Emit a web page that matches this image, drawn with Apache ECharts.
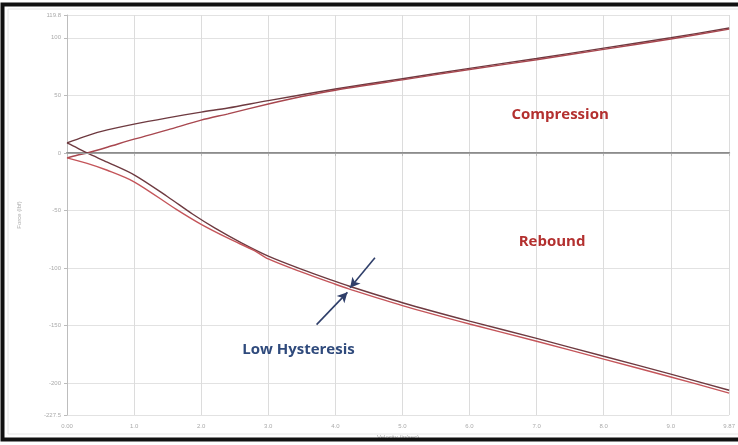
<!DOCTYPE html>
<html>
<head>
<meta charset="utf-8">
<script src="https://cdn.jsdelivr.net/npm/echarts@6/dist/echarts.min.js"></script>
<style>html,body{margin:0;padding:0;background:#fff}#c{width:738px;height:445px}</style>
</head>
<body>
<div id="c"></div>
<script>
// Velocity (in/sec) and Force (lbf) readings
const compAX = [0, 0.25, 0.5, 1.0, 1.5, 2.0, 2.4, 3.0, 4.0, 5.0, 6.0, 7.0, 8.0, 9.0, 9.87];
const compAY = [8.7, 14, 18.5, 25, 30.5, 35.5, 39, 45.5, 55.5, 64.5, 73.5, 82, 91, 100, 108.5];
const compBX = [0, 0.15, 0.3, 0.6, 1.0, 1.5, 2.0, 2.4, 3.0, 3.5, 4.0, 5.0, 6.0, 7.0, 8.0, 9.0, 9.87];
const compBY = [-4.3, -2, 0, 5, 12, 20, 28.5, 34, 42.5, 49, 54.5, 63.5, 72.5, 81, 90, 99, 107.5];
const rebCX = [0, 0.15, 0.3, 0.6, 1.0, 1.5, 1.87, 2.2, 2.6, 3.0, 3.5, 4.0, 4.2, 5, 6, 7, 8, 9, 9.87];
const rebCY = [8.7, 4.5, 0, -8, -19, -38, -53, -65, -78, -89.5, -101, -111.5, -115.5, -130, -146, -161, -176.5, -192, -206];
const rebDX = [0, 0.3, 0.6, 1.0, 1.63, 2.0, 2.4, 2.8, 3.0, 3.5, 4.0, 4.2, 5, 6, 7, 8, 9, 9.87];
const rebDY = [-4.3, -9, -15, -25, -49, -62, -74, -85, -92, -103.5, -114, -118, -132.5, -148.5, -163.5, -179, -194.5, -208.5];
const xTicks = [0, 1, 2, 3, 4, 5, 6, 7, 8, 9, 9.87];
const yTicks = [-227.5, -200, -150, -100, -50, 0, 50, 100, 119.8];
const xMin = 0, xMax = 9.87, yMin = -227.5, yMax = 119.8;
const notes = [
  {name: 'Compression', x: 7.35, y: 33, color: '#b3302f', size: 15},
  {name: 'Rebound', x: 7.23, y: -77, color: '#b3302f', size: 15},
  {name: 'Low Hysteresis', x: 3.45, y: -171, color: '#2f4a7c', size: 15}
];
const arrows = [
  [[4.59, -91], [4.22, -117]],
  [[3.72, -149], [4.18, -121]]
];

const zip = (xs, ys) => xs.map((x, i) => [x, ys[i]]);
const line = (name, xs, ys, color) => ({
  name, type: 'line', data: zip(xs, ys), smooth: 0.3, showSymbol: false,
  lineStyle: {color, width: 1.4}, z: 3
});

const chart = echarts.init(document.getElementById('c'));
const series = [
  line('compA', compAX, compAY, '#6e3a40'),
  line('compB', compBX, compBY, '#a8474f'),
  line('rebC', rebCX, rebCY, '#6e3a40'),
  line('rebD', rebDX, rebDY, '#c4555a')
];
series.push({
  type: 'line', data: [], silent: true,
  markLine: {
    silent: true, symbol: 'none', animation: false,
    label: {show: false},
    lineStyle: {color: '#a0a0a0', width: 1.2, type: 'solid'},
    data: [{yAxis: 0}]
  }
});
series.push({
  type: 'line', data: [], silent: true,
  markLine: {
    silent: true, animation: false, symbol: ['none', 'arrow'], symbolSize: [8, 10],
    label: {show: false},
    lineStyle: {color: '#2f3f6a', width: 1.6, type: 'solid'},
    data: arrows.map(a => [{coord: a[0]}, {coord: a[1]}])
  },
  markPoint: {
    silent: true, animation: false, symbol: 'circle', symbolSize: 0,
    data: notes.map(n => ({
      coord: [n.x, n.y],
      label: {show: true, formatter: n.name, color: n.color, fontSize: n.size,
        fontWeight: 'bold', fontFamily: 'Open Sans', position: 'inside'}
    }))
  }
});

chart.setOption({
  animation: false,
  backgroundColor: '#fff',
  grid: {left: 67, right: 5, top: 15, bottom: 30},
  xAxis: {
    type: 'value', min: xMin, max: xMax,
    name: 'Velocity (in/sec)', nameLocation: 'middle', nameGap: 17,
    nameTextStyle: {color: '#aaa', fontSize: 6},
    axisLine: {show: true, lineStyle: {color: '#8c8c8c', width: 2}},
    axisTick: {show: true, customValues: xTicks, length: 3, lineStyle: {color: '#bbb'}},
    axisLabel: {customValues: xTicks, color: '#aaa', fontSize: 6, margin: 8,
      formatter: v => v === 0 ? '0.00' : (v === xMax ? v.toFixed(2) : v.toFixed(1))},
    splitLine: {show: true, lineStyle: {color: '#dcdcdc', width: 1}}
  },
  yAxis: {
    type: 'value', min: yMin, max: yMax,
    name: 'Force (lbf)', nameLocation: 'middle', nameGap: 45,
    nameTextStyle: {color: '#aaa', fontSize: 6},
    axisLine: {show: true, lineStyle: {color: '#bdbdbd', width: 1}},
    axisTick: {show: true, customValues: yTicks, length: 3, lineStyle: {color: '#bbb'}},
    axisLabel: {customValues: yTicks, color: '#aaa', fontSize: 6, margin: 6,
      formatter: v => (v === yMin || v === yMax) ? v.toFixed(1) : String(v)},
    splitLine: {show: true, lineStyle: {color: '#e2e2e2', width: 1}}
  },
  graphic: [{
    type: 'rect', shape: {x: 2.5, y: 4.5, width: 745, height: 435},
    style: {fill: 'none', stroke: '#111', lineWidth: 4}, silent: true, z: 100
  }, {
    type: 'rect', shape: {x: 8, y: 9, width: 735, height: 425},
    style: {fill: 'none', stroke: '#e6e6e6', lineWidth: 1}, silent: true, z: 99
  }],
  series
});
</script>
</body>
</html>
